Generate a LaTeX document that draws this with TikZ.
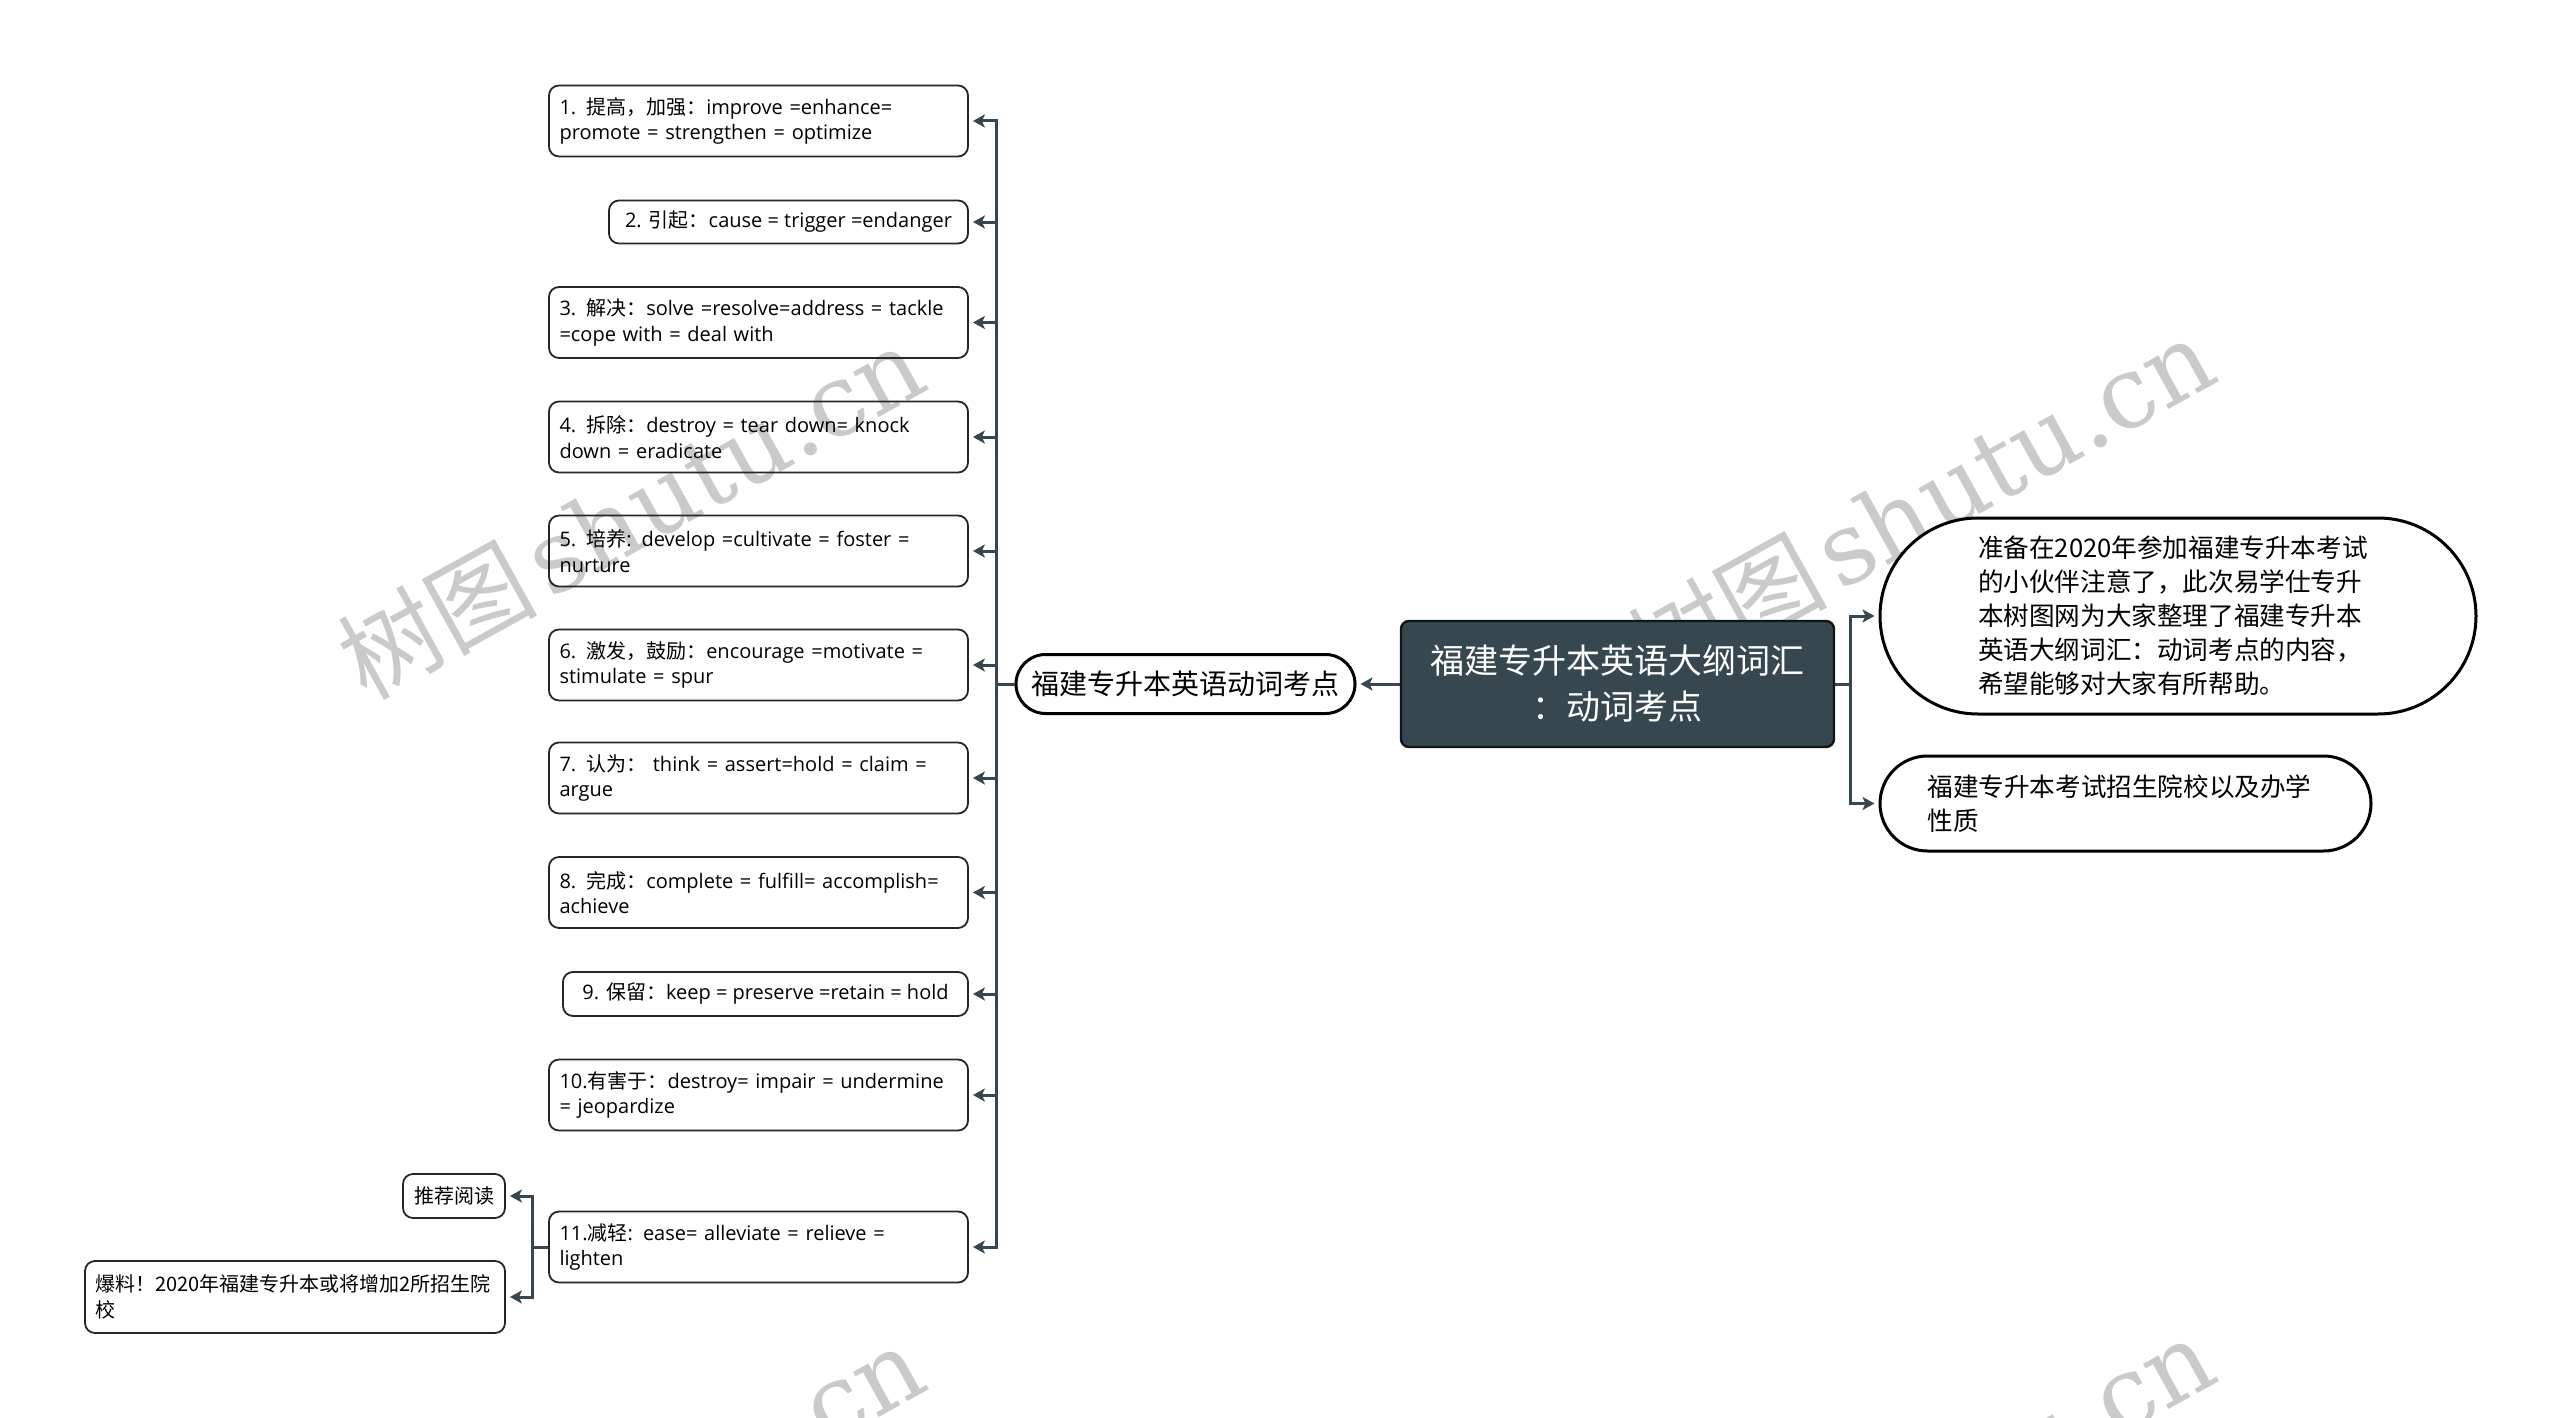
\documentclass[tikz,border=0pt]{standalone}
\usepackage{fontspec}
\setmainfont{Open Sans}
\newfontfamily\cjk{Noto Sans CJK SC}
\newfontfamily\wmserif{DejaVu Serif}
\usetikzlibrary{arrows.meta}
\definecolor{linec}{HTML}{37474F}
\definecolor{mainfill}{HTML}{37474F}
\definecolor{wmc}{HTML}{CACACA}
\begin{document}
\begin{tikzpicture}[x=0.5pt,y=-0.5pt,
  leaf/.style={draw=black!85, line width=0.9pt, rounded corners=5pt,
    inner xsep=5.25pt, inner ysep=2pt, text width=199pt, align=left,
    minimum height=35.5pt, font=\fontsize{10}{12.7}\selectfont},
  leafs/.style={draw=black!85, line width=0.9pt, rounded corners=5pt,
    inner xsep=5.5pt, inner ysep=2pt, align=center,
    minimum height=21.5pt, font=\fontsize{10}{12.7}\selectfont},
  stad/.style={draw=black, line width=1.5pt, fill=white},
  mainbox/.style={fill=mainfill, draw=black!70!mainfill, line width=1.2pt,
    rounded corners=4pt, minimum width=216.5pt, minimum height=63pt,
    text=white, align=center, font=\cjk\fontsize{17}{23}\selectfont},
  conn/.style={draw=linec, line width=1.5pt,
    -{Stealth[length=6pt,width=6.5pt,inset=1.5pt]}, shorten >=2pt},
  wm/.style={text=wmc, rotate=29, anchor=base west, inner sep=0pt,
    font=\fontsize{50}{50}\selectfont}
]
\useasboundingbox (0,0) rectangle (2560,1418);
% watermarks
\begin{scope}
\clip (0,0) rectangle (2560,1418);
\foreach \dx/\dy in {0/0,1290/-8,0/1000,1290/992}
  \node[wm] at (366+\dx,702+\dy) {{\cjk 树图}\hspace{0.1em}{\wmserif shutu.cn}};
\end{scope}

% left leaves
\node[leaf] (b1) at (758.5,121) {1. {\cjk 提高，加强：}improve =enhance=\\promote = strengthen = optimize};
\node[leafs, minimum width=179.5pt] (b2) at (788.5,222) {2. {\cjk 引起：}cause = trigger =endanger};
\node[leaf] (b3) at (758.5,322.5) {3. {\cjk 解决：}solve =resolve=address = tackle\\=cope with = deal with};
\node[leaf] (b4) at (758.5,437) {4. {\cjk 拆除：}destroy = tear down= knock\\down = eradicate};
\node[leaf] (b5) at (758.5,551) {5. {\cjk 培养}: develop =cultivate = foster =\\nurture};
\node[leaf] (b6) at (758.5,665) {6. {\cjk 激发，鼓励：}encourage =motivate =\\stimulate = spur};
\node[leaf] (b7) at (758.5,778) {7. {\cjk 认为：}\ think = assert=hold = claim =\\argue};
\node[leaf] (b8) at (758.5,892.5) {8. {\cjk 完成：}complete = fulfill= accomplish=\\achieve};
\node[leafs, minimum width=202.5pt, minimum height=22pt] (b9) at (765.5,994) {9. {\cjk 保留：}keep = preserve =retain = hold};
\node[leaf] (b10) at (758.5,1095) {10.{\cjk 有害于：}destroy= impair = undermine\\= jeopardize};
\node[leaf] (b11) at (758.5,1247) {11.{\cjk 减轻}: ease= alleviate = relieve =\\lighten};

\node[leafs, minimum width=51pt, minimum height=22pt, inner xsep=3pt] (rec) at (454,1196) {{\cjk 推荐阅读}};
\node[leaf, text width=200pt, inner xsep=5pt, minimum height=36pt] (bao) at (295,1297) {\cjk 爆料！2020年福建专升本或将增加2所招生院\\校};

% central nodes
\node[stad, minimum width=169.5pt, minimum height=29.5pt, rounded corners=14.75pt,
  font=\cjk\fontsize{14}{17}\selectfont] (cl) at (1185.5,684) {福建专升本英语动词考点};
\node[mainbox] (main) at (1617.5,684) {福建专升本英语大纲词汇\\：动词考点};

% right nodes
\node[stad, minimum width=298pt, minimum height=98pt, rounded corners=49pt,
  text width=200pt, align=left, font=\cjk\fontsize{12.8}{17}\selectfont] (rn1) at (2178,616)
  {准备在2020年参加福建专升本考试\\的小伙伴注意了，此次易学仕专升\\本树图网为大家整理了福建专升本\\英语大纲词汇：动词考点的内容，\\希望能够对大家有所帮助。};
\node[stad, minimum width=245.5pt, minimum height=47.5pt, rounded corners=23.75pt,
  text width=198pt, align=left, font=\cjk\fontsize{12.8}{17}\selectfont] (rn2) at (2125.5,803.5)
  {福建专升本考试招生院校以及办学\\性质};

% connectors
\coordinate (busL) at (996,684);
\coordinate (busR) at (1850,684);
\coordinate (busB) at (532,1247);
\foreach \b in {b1,b2,b3,b4,b5,b6,b7,b8,b9,b10,b11}
  \draw[conn] (cl.west) -- (busL) |- (\b.east);
\draw[conn] (main.west) -- (cl.east);
\draw[conn] (main.east) -- (busR) |- (rn1.west);
\draw[conn] (main.east) -- (busR) |- (rn2.west);
\draw[conn] (b11.west) -- (busB) |- (rec.east);
\draw[conn] (b11.west) -- (busB) |- (bao.east);
\end{tikzpicture}
\end{document}
